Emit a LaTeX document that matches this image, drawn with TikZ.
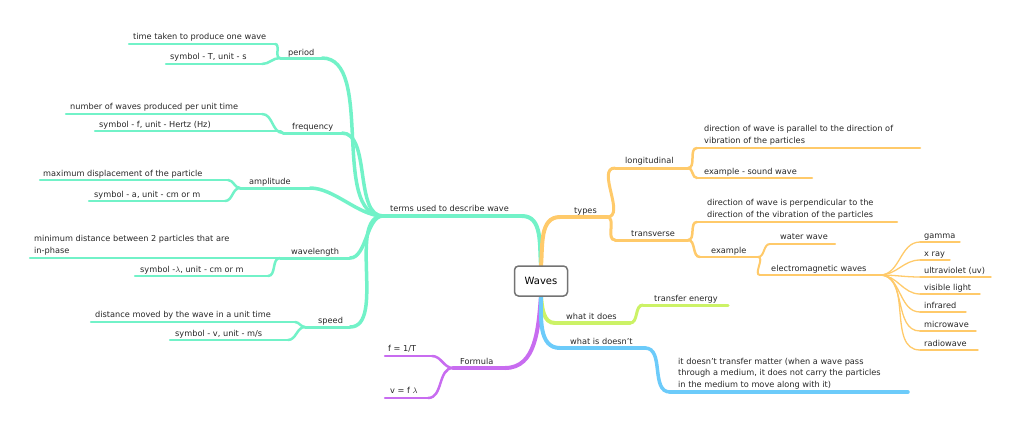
\documentclass[tikz,border=0pt]{standalone}
\usepackage{fontspec}
\setmainfont{DejaVu Sans}
\definecolor{teal}{HTML}{72F2C8}
\definecolor{org}{HTML}{FFCA6A}
\definecolor{grn}{HTML}{CCF266}
\definecolor{blu}{HTML}{6CCBFA}
\definecolor{pur}{HTML}{C86CF0}
\newcommand\ul[6]{% color,width,x1,x2,y,name
  \coordinate (#6-l) at (#3,#5); \coordinate (#6-r) at (#4,#5);
  \draw[#1,line width=#2,line cap=round] (#6-l) -- (#6-r);}
\tikzset{lbl/.style={inner sep=0,font=\fontsize{8.2}{11.5}\selectfont,text=black!85,anchor=base west},
 mlbl/.style={lbl,align=left,anchor=south west},
 cn/.style={line cap=round}}
\begin{document}
\begin{tikzpicture}[x=1pt,y=-1pt]
\useasboundingbox (0,0) rectangle (1024,432);
% ---------- teal ----------
\ul{teal}{4}{383}{522}{216}{terms}
\ul{teal}{3}{280}{322}{58}{period}
\ul{teal}{3}{283}{342}{133}{freq}
\ul{teal}{3}{240}{310}{188}{ampl}
\ul{teal}{3}{280}{350}{258}{wlen}
\ul{teal}{3}{305}{350}{327}{speed}
\ul{teal}{2.5}{129}{275}{44}{p1}
\ul{teal}{2.5}{166}{262}{64}{p2}
\ul{teal}{2.5}{66}{262}{114}{f1}
\ul{teal}{2.5}{95}{280}{131}{f2}
\ul{teal}{2.5}{40}{228}{180}{a1}
\ul{teal}{2.5}{89}{225}{201}{a2}
\ul{teal}{2.5}{30}{280}{258}{w1}
\ul{teal}{2.5}{135}{268}{276}{w2}
\ul{teal}{2.5}{91}{295}{322}{s1}
\ul{teal}{2.5}{170}{288}{340}{s2}
\foreach \c in {period,freq,ampl,wlen,speed}
  \draw[teal,line width=3.5,cn] (terms-l) to[out=180,in=0,looseness=0.8] (\c-r);
\draw[teal,line width=2.5,cn] (period-l) to[out=180,in=0] (p1-r);
\draw[teal,line width=2.5,cn] (period-l) to[out=180,in=0] (p2-r);
\draw[teal,line width=2.5,cn] (freq-l) to[out=180,in=0] (f1-r);
\draw[teal,line width=2.5,cn] (freq-l) to[out=180,in=0] (f2-r);
\draw[teal,line width=2.5,cn] (ampl-l) to[out=180,in=0] (a1-r);
\draw[teal,line width=2.5,cn] (ampl-l) to[out=180,in=0] (a2-r);
\draw[teal,line width=2.5,cn] (wlen-l) to[out=180,in=0] (w2-r);
\draw[teal,line width=2.5,cn] (speed-l) to[out=180,in=0] (s1-r);
\draw[teal,line width=2.5,cn] (speed-l) to[out=180,in=0] (s2-r);
\node[lbl] (tterms) at (390,211) {terms used to describe wave};
\node[lbl] (tperiod) at (288,55) {period};
\node[lbl] (tfreq) at (292,129) {frequency};
\node[lbl] (tampl) at (249,184) {amplitude};
\node[lbl] (twlen) at (291,254) {wavelength};
\node[lbl] (tspeed) at (318,323) {speed};
\node[lbl] (tp1) at (133,39) {time taken to produce one wave};
\node[lbl] (tp2) at (170,59) {symbol - T, unit - s};
\node[lbl] (tf1) at (70,109) {number of waves produced per unit time};
\node[lbl] (tf2) at (99,127) {symbol - f, unit - Hertz (Hz)};
\node[lbl] (ta1) at (43,176) {maximum displacement of the particle};
\node[lbl] (ta2) at (94,197) {symbol - a, unit - cm or m};
\node[mlbl] (tw1) at (34,255) {minimum distance between 2 particles that are\\in-phase};
\node[lbl] (tw2) at (140,272) {symbol -$\lambda$, unit - cm or m};
\node[lbl] (ts1) at (95,317) {distance moved by the wave in a unit time};
\node[lbl] (ts2) at (175,336) {symbol - v, unit - m/s};
% ---------- purple ----------
\ul{pur}{3.5}{453}{505}{368}{form}
\ul{pur}{2.5}{385}{432}{356}{fo1}
\ul{pur}{2.5}{385}{428}{398}{fo2}
\draw[pur,line width=2.5,cn] (form-l) to[out=180,in=0] (fo1-r);
\draw[pur,line width=2.5,cn] (form-l) to[out=180,in=0] (fo2-r);
\node[lbl] (tform) at (460,364) {Formula};
\node[lbl] (tfo1) at (388,351) {f = 1/T};
\node[lbl] (tfo2) at (390,393) {v = f $\lambda$};
% ---------- orange ----------
\ul{org}{4}{560}{607}{217}{types}
\ul{org}{3}{615}{688}{168}{long}
\ul{org}{3}{615}{688}{240}{trans}
\ul{org}{2.5}{697}{920}{148}{l1}
\ul{org}{2.5}{697}{812}{178}{l2}
\ul{org}{2.5}{697}{897}{222}{t1}
\ul{org}{2.5}{700}{758}{257}{ex}
\ul{org}{2}{770}{835}{244}{ww}
\ul{org}{2}{760}{880}{275}{em}
\draw[org,line width=3,cn] (types-r) to[out=0,in=180] (long-l);
\draw[org,line width=3,cn] (types-r) to[out=0,in=180] (trans-l);
\draw[org,line width=2.5,cn] (long-r) to[out=0,in=180] (l1-l);
\draw[org,line width=2.5,cn] (long-r) to[out=0,in=180] (l2-l);
\draw[org,line width=2.5,cn] (trans-r) to[out=0,in=180] (t1-l);
\draw[org,line width=2.5,cn] (trans-r) to[out=0,in=180] (ex-l);
\draw[org,line width=2,cn] (ex-r) to[out=0,in=180] (ww-l);
\draw[org,line width=2,cn] (ex-r) to[out=0,in=180] (em-l);
\foreach \n/\y/\e/\t in {g/242/960/gamma,x/260/950/x ray,u/277/991/ultraviolet (uv),v/294/980/visible light,i/312/966/infrared,m/331/976/microwave,r/350/978/radiowave}{
  \ul{org}{1.3}{920}{\e}{\y}{leaf\n}
  \draw[org,line width=1.3,cn] (em-r) to[out=0,in=180] (leaf\n-l);
  \node[lbl] (tleaf\n) at (924,\y-4) {\t};}
\node[lbl] (ttypes) at (574,213) {types};
\node[lbl] (tlong) at (625,163) {longitudinal};
\node[lbl] (ttrans) at (631,236) {transverse};
\node[mlbl] (tl1) at (704,145) {direction of wave is parallel to the direction of\\vibration of the particles};
\node[lbl] (tl2) at (704,174) {example - sound wave};
\node[mlbl] (tt1) at (707,219) {direction of wave is perpendicular to the\\direction of the vibration of the particles};
\node[lbl] (tex) at (711,253) {example};
\node[lbl] (tww) at (780,239) {water wave};
\node[lbl] (tem) at (771,271) {electromagnetic waves};
% ---------- green / blue ----------
\ul{grn}{3.5}{555}{630}{323}{does}
\ul{grn}{3}{643}{728}{305}{te}
\draw[grn,line width=3,cn] (does-r) to[out=0,in=180] (te-l);
\node[lbl] (tdoes) at (566,319) {what it does};
\node[lbl] (tte) at (654,301) {transfer energy};
\ul{blu}{4}{560}{645}{348}{dsnt}
\ul{blu}{3.5}{670}{908}{392}{mat}
\draw[blu,line width=3.5,cn] (dsnt-r) to[out=0,in=180] (mat-l);
\node[lbl] (tdsnt) at (570,344) {what is doesn't};
\node[mlbl] (tmat) at (678,389) {it doesn't transfer matter (when a wave pass\\through a medium, it does not carry the particles\\in the medium to move along with it)};
% ---------- root ----------
\coordinate (rt) at (541,266); \coordinate (rb) at (541,296);
\draw[teal,line width=4,cn] (terms-r) to[out=0,in=95] (rt);
\draw[org,line width=4,cn] (rt) to[out=85,in=180] (types-l);
\draw[pur,line width=4,cn] (form-r) to[out=0,in=-95] (rb);
\draw[grn,line width=4,cn] (rb) to[out=-85,in=180] (does-l);
\draw[blu,line width=4,cn] (rb) to[out=-90,in=180] (dsnt-l);
\node[draw=black!55,line width=1.5,rounded corners=4pt,fill=white,minimum width=53,minimum height=30,font=\fontsize{10}{12}\selectfont] (waves) at (541,281) {Waves};
\end{tikzpicture}
\end{document}
